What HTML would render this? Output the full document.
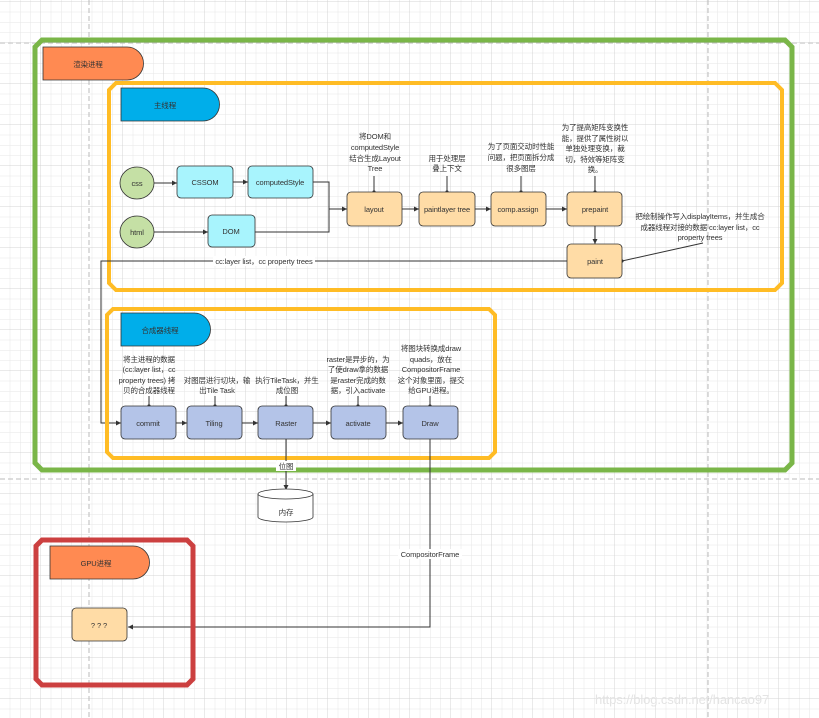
<!DOCTYPE html>
<html><head><meta charset="utf-8"><style>
html,body{margin:0;padding:0;background:#fff;}
svg{display:block;}
text{font-family:"Liberation Sans","Noto Sans CJK SC",sans-serif;font-size:7.5px;fill:#333;letter-spacing:-0.1px;}
</style></head><body>
<svg width="819" height="718" viewBox="0 0 819 718" xmlns="http://www.w3.org/2000/svg">
<defs>
<pattern id="g" x="0" y="2" width="10.25" height="10.25" patternUnits="userSpaceOnUse">
<path d="M10.25 0V10.25M0 10.25H10.25" stroke="#e6e6e6" stroke-width="1" fill="none"/>
</pattern>
<pattern id="G" x="0" y="2" width="41" height="41" patternUnits="userSpaceOnUse">
<path d="M41 0V41M0 41H41" stroke="#d4d4d4" stroke-width="1" fill="none"/>
</pattern>
<marker id="a" markerWidth="6" markerHeight="6" refX="5" refY="3" orient="auto"><path d="M0,0.5L5,3L0,5.5Z" fill="#333"/></marker>
<marker id="d" markerWidth="4" markerHeight="4" refX="2" refY="2"><circle cx="2" cy="2" r="1.6" fill="#333"/></marker>
</defs>
<rect width="819" height="718" fill="url(#g)"/>
<rect width="819" height="718" fill="url(#G)"/>
<path d="M89 0V718M708 0V718M0 43H819M0 479H819" stroke="#bbb" stroke-dasharray="5,3" fill="none"/>

<path d="M42 40H785L792 47V463L785 470H42L35 463V47Z" fill="none" stroke="#7ab648" stroke-width="5"/>
<path d="M43 47H127A16.5 16.5 0 0 1 127 80H43Z" fill="#ff8a52" stroke="#333" stroke-width="0.8"/>
<text x="88" y="67" text-anchor="middle">渲染进程</text>

<path d="M116 83H775L782 90V283L775 290H116L109 283V90Z" fill="none" stroke="#ffbc25" stroke-width="4"/>
<path d="M121 88H203A16.5 16.5 0 0 1 203 121H121Z" fill="#00aeea" stroke="#333" stroke-width="0.8"/>
<text x="165" y="108" text-anchor="middle">主线程</text>

<g stroke="#333" stroke-width="1" fill="none">
<path d="M154 183H177" marker-end="url(#a)"/>
<path d="M233 182H248" marker-end="url(#a)"/>
<path d="M154 232H208" marker-end="url(#a)"/>
<path d="M313 182H329V232H255"/>
<path d="M329 209H347" marker-end="url(#a)"/>
<path d="M402 209H419" marker-end="url(#a)"/>
<path d="M475 209H491" marker-end="url(#a)"/>
<path d="M546 209H567" marker-end="url(#a)"/>
<path d="M595 226V244" marker-end="url(#a)"/>
<path d="M374 176V192" marker-end="url(#d)"/>
<path d="M447 176V192" marker-end="url(#d)"/>
<path d="M521 176V192" marker-end="url(#d)"/>
<path d="M595 176V192" marker-end="url(#d)"/>
<path d="M703 243L622 261" marker-end="url(#d)"/>
<path d="M567 261H101V423H121" marker-end="url(#a)"/>
</g>
<ellipse cx="137" cy="183" rx="17" ry="16" fill="#c5e0a5" stroke="#333" stroke-width="0.8"/>
<text x="137" y="186" text-anchor="middle">css</text>
<ellipse cx="137" cy="232" rx="17" ry="16" fill="#c5e0a5" stroke="#333" stroke-width="0.8"/>
<text x="137" y="235" text-anchor="middle">html</text>
<g fill="#a8f4fd" stroke="#333" stroke-width="0.8">
<rect x="177" y="166" width="56" height="32" rx="4"/>
<rect x="248" y="166" width="65" height="32" rx="4"/>
<rect x="208" y="215" width="47" height="32" rx="4"/>
</g>
<text x="205" y="185" text-anchor="middle">CSSOM</text>
<text x="280" y="185" text-anchor="middle">computedStyle</text>
<text x="231" y="234" text-anchor="middle">DOM</text>
<g fill="#ffdca6" stroke="#333" stroke-width="0.8">
<rect x="347" y="192" width="55" height="34" rx="4"/>
<rect x="419" y="192" width="56" height="34" rx="4"/>
<rect x="491" y="192" width="55" height="34" rx="4"/>
<rect x="567" y="192" width="55" height="34" rx="4"/>
<rect x="567" y="244" width="55" height="34" rx="4"/>
</g>
<text x="374" y="212" text-anchor="middle">layout</text>
<text x="447" y="212" text-anchor="middle">paintlayer tree</text>
<text x="518" y="212" text-anchor="middle">comp.assign</text>
<text x="595" y="212" text-anchor="middle">prepaint</text>
<text x="595" y="264" text-anchor="middle">paint</text>
<g text-anchor="middle">
<text x="375" y="139">将DOM和</text><text x="375" y="150">computedStyle</text><text x="375" y="161">结合生成Layout</text><text x="375" y="171">Tree</text>
<text x="447" y="161">用于处理层</text><text x="447" y="171">叠上下文</text>
<text x="521" y="149">为了页面交动时性能</text><text x="521" y="160">问题，把页面拆分成</text><text x="521" y="171">很多图层</text>
<text x="595" y="130">为了提高矩阵变换性</text><text x="595" y="141">能，提供了属性树以</text><text x="595" y="151">单独处理变换，裁</text><text x="595" y="162">切，特效等矩阵变</text><text x="595" y="172">换。</text>
<text x="700" y="219">把绘制操作写入displayItems，并生成合</text><text x="700" y="230">成器线程对接的数据 cc:layer list，cc</text><text x="700" y="240">property trees</text>
</g>
<rect x="213" y="256" width="102" height="10" fill="#fff"/>
<text x="264" y="264" text-anchor="middle">cc:layer list，cc property trees</text>

<path d="M113 309H489L495 315V452L489 458H113L107 452V315Z" fill="none" stroke="#ffbc25" stroke-width="4"/>
<path d="M121 313H194A16.5 16.5 0 0 1 194 346H121Z" fill="#00aeea" stroke="#333" stroke-width="0.8"/>
<text x="160" y="333" text-anchor="middle">合成器线程</text>
<g stroke="#333" stroke-width="1" fill="none">
<path d="M176 423H187" marker-end="url(#a)"/>
<path d="M242 423H258" marker-end="url(#a)"/>
<path d="M313 423H331" marker-end="url(#a)"/>
<path d="M386 423H403" marker-end="url(#a)"/>
<path d="M149 396V406" marker-end="url(#d)"/>
<path d="M215 396V406" marker-end="url(#d)"/>
<path d="M286 396V406" marker-end="url(#d)"/>
<path d="M358 396V406" marker-end="url(#d)"/>
<path d="M430 396V406" marker-end="url(#d)"/>
<path d="M286 439V490" marker-end="url(#a)"/>
<path d="M430 439V627H128" marker-end="url(#a)"/>
</g>
<g fill="#b4c4e8" stroke="#333" stroke-width="0.8">
<rect x="121" y="406" width="55" height="33" rx="4"/>
<rect x="187" y="406" width="55" height="33" rx="4"/>
<rect x="258" y="406" width="55" height="33" rx="4"/>
<rect x="331" y="406" width="55" height="33" rx="4"/>
<rect x="403" y="406" width="55" height="33" rx="4"/>
</g>
<g text-anchor="middle">
<text x="148" y="426">commit</text><text x="214" y="426">Tiling</text><text x="286" y="426">Raster</text><text x="358" y="426">activate</text><text x="430" y="426">Draw</text>
<text x="149" y="362">将主进程的数据</text><text x="149" y="372">(cc:layer list，cc</text><text x="147" y="383">property trees) 拷</text><text x="149" y="393">贝的合成器线程</text>
<text x="217" y="383">对图层进行切块，输</text><text x="217" y="393">出Tile Task</text>
<text x="287" y="383">执行TileTask，并生</text><text x="287" y="393">成位图</text>
<text x="358" y="362">raster是异步的，为</text><text x="358" y="372">了使draw拿的数据</text><text x="358" y="383">是raster完成的数</text><text x="358" y="393">据，引入activate</text>
<text x="431" y="351">将图块转换成draw</text><text x="431" y="362">quads，放在</text><text x="431" y="372">CompositorFrame</text><text x="431" y="383">这个对象里面，提交</text><text x="431" y="393">给GPU进程。</text>
</g>
<rect x="276" y="461" width="20" height="10" fill="#fff"/>
<text x="286" y="469" text-anchor="middle">位图</text>
<path d="M258 494V517A27.5 5 0 0 0 313 517V494" fill="#fff" stroke="#333" stroke-width="0.8"/>
<ellipse cx="285.5" cy="494" rx="27.5" ry="5" fill="#fff" stroke="#333" stroke-width="0.8"/>
<text x="286" y="515" text-anchor="middle">内存</text>
<rect x="398" y="549" width="64" height="10" fill="#fff"/>
<text x="430" y="557" text-anchor="middle">CompositorFrame</text>

<path d="M42 540H187L193 546V679L187 685H42L36 679V546Z" fill="none" stroke="#cc4040" stroke-width="5"/>
<path d="M50 546H133A16.5 16.5 0 0 1 133 579H50Z" fill="#ff8a52" stroke="#333" stroke-width="0.8"/>
<text x="96" y="566" text-anchor="middle">GPU进程</text>
<rect x="72" y="608" width="55" height="33" rx="4" fill="#ffdca6" stroke="#333" stroke-width="0.8"/>
<text x="99" y="628" text-anchor="middle">? ? ?</text>

<text x="595" y="704" style="font-size:13px;fill:#e4e4e4">https://blog.csdn.net/hancao97</text>
</svg>
</body></html>
